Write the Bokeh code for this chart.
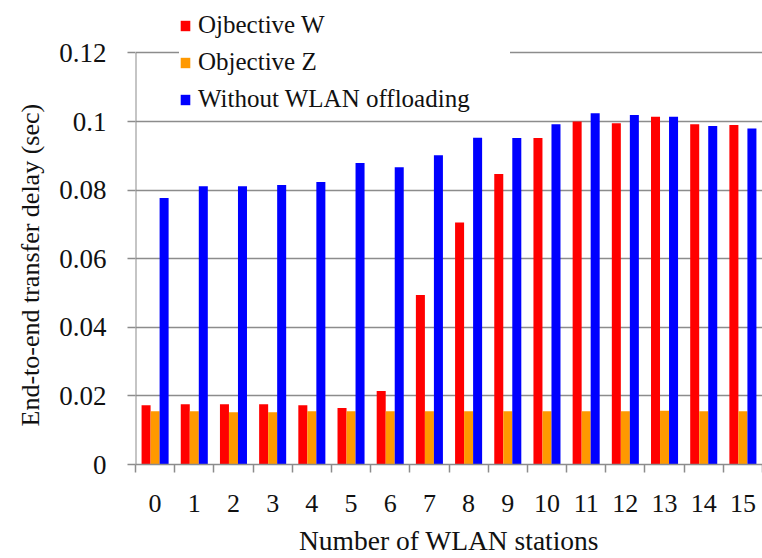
from bokeh.plotting import figure
from bokeh.models import ColumnDataSource, Range1d, FixedTicker, Legend, LegendItem, Title
from bokeh.transform import dodge
from bokeh.embed import file_html
from bokeh.resources import INLINE

categories = list(range(16))
tick_labels = [str(c) for c in categories]
obj_w = [0.0173, 0.0176, 0.0176, 0.0176, 0.0173, 0.0165, 0.0214, 0.0494,
         0.0706, 0.0847, 0.0952, 0.1000, 0.0995, 0.1014, 0.0992, 0.0990]
obj_z = [0.0155, 0.0155, 0.0152, 0.0152, 0.0155, 0.0155, 0.0155, 0.0155,
         0.0155, 0.0155, 0.0155, 0.0155, 0.0155, 0.0157, 0.0155, 0.0155]
no_offload = [0.0777, 0.0811, 0.0811, 0.0815, 0.0824, 0.0879, 0.0867, 0.0902,
              0.0953, 0.0952, 0.0992, 0.1024, 0.1019, 0.1014, 0.0987, 0.0980]
y_ticks = [0, 0.02, 0.04, 0.06, 0.08, 0.1, 0.12]
y_tick_labels = ["0", "0.02", "0.04", "0.06", "0.08", "0.1", "0.12"]
series_names = ["Ojbective W", "Objective Z", "Without WLAN offloading"]
colors = ["#ff0000", "#ff9900", "#0000ff"]
x_title = "Number of WLAN stations"
y_title = "End-to-end transfer delay (sec)"

FONT = "Liberation Serif"
GRAY = "#8c8c8c"
TXT = "#111111"

src = ColumnDataSource(dict(x=categories, w=obj_w, z=obj_z, n=no_offload))

y_top_visible = 0.1353  # frame extends above the 0.12 gridline so the legend fits
p = figure(width=762, height=558, output_backend="svg", toolbar_location=None,
           x_range=Range1d(-0.5, 15.5), y_range=Range1d(0, y_top_visible),
           min_border_left=135, min_border_right=0, min_border_top=0,
           min_border_bottom=94)
p.outline_line_color = None
p.background_fill_color = "white"
p.border_fill_color = "white"

bw = 0.23
r1 = p.vbar(x=dodge("x", -bw, range=p.x_range), top="w", width=bw, source=src,
            fill_color=colors[0], line_color=None)
r2 = p.vbar(x=dodge("x", 0, range=p.x_range), top="z", width=bw, source=src,
            fill_color=colors[1], line_color=None)
r3 = p.vbar(x=dodge("x", bw, range=p.x_range), top="n", width=bw, source=src,
            fill_color=colors[2], line_color=None)

# x axis
minor = [c - 0.5 for c in categories] + [categories[-1] + 0.5]
p.xaxis.ticker = FixedTicker(ticks=categories, minor_ticks=minor)
p.xaxis.major_label_overrides = {c: l for c, l in zip(categories, tick_labels)}
p.xaxis.major_tick_line_color = None
p.xaxis.major_tick_out = 0
p.xaxis.major_tick_in = 0
p.xaxis.minor_tick_line_color = GRAY
p.xaxis.minor_tick_line_width = 1.5
p.xaxis.minor_tick_out = 8
p.xaxis.minor_tick_in = 0
p.xaxis.axis_line_color = GRAY
p.xaxis.axis_line_width = 1.5
p.xaxis.major_label_text_font = FONT
p.xaxis.major_label_text_font_size = "26px"
p.xaxis.major_label_text_color = TXT
p.xaxis.major_label_standoff = 22
p.xaxis.axis_label = x_title
p.xaxis.axis_label_text_font = FONT
p.xaxis.axis_label_text_font_size = "27.5px"
p.xaxis.axis_label_text_font_style = "normal"
p.xaxis.axis_label_text_color = TXT
p.xaxis.axis_label_standoff = 10
p.xgrid.grid_line_color = None

# y axis (axis line drawn only up to the last tick, as in the reference)
p.yaxis.ticker = FixedTicker(ticks=y_ticks)
p.yaxis.major_label_overrides = {t: l for t, l in zip(y_ticks, y_tick_labels)}
p.yaxis.minor_tick_line_color = None
p.yaxis.major_tick_line_color = GRAY
p.yaxis.major_tick_line_width = 1.5
p.yaxis.major_tick_out = 8
p.yaxis.major_tick_in = 0
p.yaxis.axis_line_color = None
p.yaxis.major_label_text_font = FONT
p.yaxis.major_label_text_font_size = "27px"
p.yaxis.major_label_text_color = TXT
p.yaxis.major_label_standoff = 21
p.ygrid.ticker = FixedTicker(ticks=y_ticks)
p.ygrid.grid_line_color = GRAY
p.ygrid.grid_line_width = 1.5

# y title as a left-side title so it can sit lower than the frame centre
yt = Title(text=y_title, align="left", offset=38, standoff=24,
           text_font=FONT, text_font_size="26px", text_font_style="normal",
           text_color=TXT)
p.add_layout(yt, "left")

x0 = p.x_range.start
p.segment(x0=[x0], y0=[y_ticks[0]], x1=[x0], y1=[y_ticks[-1]],
          line_color=GRAY, line_width=2)

legend = Legend(items=[LegendItem(label=series_names[0], renderers=[r1]),
                       LegendItem(label=series_names[1], renderers=[r2]),
                       LegendItem(label=series_names[2], renderers=[r3])],
                location=(44, 350), orientation="vertical")
legend.label_text_font = FONT
legend.label_text_font_size = "25px"
legend.label_text_color = TXT
legend.glyph_width = 12
legend.glyph_height = 13
legend.label_height = 30
legend.spacing = 7
legend.padding = 2
legend.margin = 0
legend.label_standoff = 7
legend.label_width = 312
legend.border_line_color = None
legend.background_fill_color = "white"
legend.background_fill_alpha = 1.0
p.add_layout(legend, "center")

open("out.html", "w").write(file_html(p, INLINE))
